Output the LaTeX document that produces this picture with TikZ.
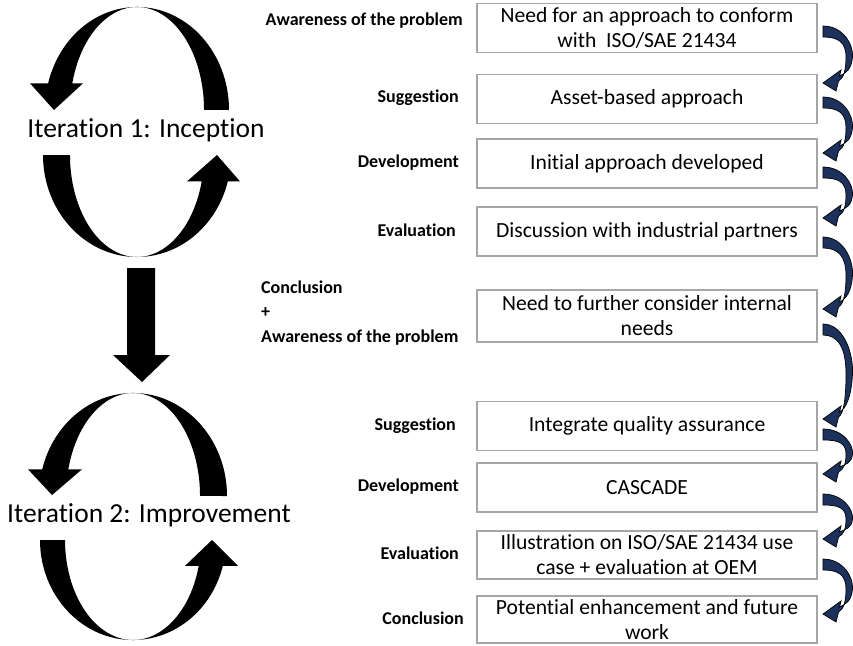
\documentclass[tikz,border=0pt]{standalone}
\usepackage{fontspec}
\setmainfont[Ligatures={NoCommon,NoContextual},Contextuals=NoAlternate]{Carlito}
\definecolor{arrnavy}{RGB}{28,50,92}
\definecolor{boxgray}{RGB}{166,166,166}
\newcommand{\curlyarrow}[2]{%
  \pgfmathsetmacro{\cyt}{#1}%
  \pgfmathsetmacro{\cyh}{#2}%
  \pgfmathsetmacro{\chh}{#2-#1}%
  \filldraw[curly] (823,{\cyt-6})
    .. controls (843,{\cyt-6}) and (853.5,{\cyt+0.25*\chh}) .. (852.5,{\cyt+0.5*\chh})
    .. controls (851.5,{\cyt+0.75*\chh}) and (846,{\cyh-9}) .. (839.5,{\cyh-6})
    -- (841,{\cyh-12}) -- (823,{\cyh+1}) -- (836,{\cyh+9}) -- (838.5,{\cyh-1})
    .. controls (844,{\cyh-4}) and (846,{\cyt+0.75*\chh}) .. (846,{\cyt+0.5*\chh})
    .. controls (846,{\cyt+0.2*\chh}) and (838,{\cyt+5}) .. (823,{\cyt+5}) -- cycle;
}
\begin{document}
\begin{tikzpicture}[x=1pt,y=1pt,yscale=-1,
  box/.style={draw=boxgray, line width=1.2pt, fill=white, minimum width=340pt,
    minimum height=49pt, align=center, inner sep=0pt,
    font=\fontsize{21.6}{25}\selectfont},
  lab/.style={font=\fontsize{18}{24.5}\selectfont\bfseries, inner sep=0pt},
  iter/.style={font=\fontsize{27.5}{33}\selectfont, inner sep=0pt},
  bigarr/.style={fill=black, draw=none},
  curly/.style={fill=arrnavy, draw=black, line width=0.7pt},
]
\useasboundingbox (0,0) rectangle (853,645);

% boxes
\node[box] (b1) at (647,28) {Need for an approach to conform\\with\ \ ISO/SAE 21434};
\node[box] (b2) at (647,99) {Asset-based approach};
\node[box] (b3) at (647,163.5) {Initial approach developed};
\node[box] (b4) at (647,231.5) {Discussion with industrial partners};
\node[box, minimum height=52pt] (b5) at (647,316) {Need to further consider internal\\needs};
\node[box] (b6) at (647,426) {Integrate quality assurance};
\node[box] (b7) at (647,487.5) {CASCADE};
\node[box, minimum height=48pt] (b8) at (647,555) {Illustration on ISO/SAE 21434 use\\case + evaluation at OEM};
\node[box, minimum height=47pt] (b9) at (647,619.5) {Potential enhancement and future\\work};

% labels
\node[lab, anchor=east] (l1) at (463,21) {Awareness of the problem};
\node[lab, anchor=east] (l2) at (459,98) {Suggestion};
\node[lab, anchor=east] (l3) at (459,163) {Development};
\node[lab, anchor=east] (l4) at (456,230) {Evaluation};
\node[lab, anchor=west, align=left] (l5) at (261,313) {Conclusion\\+\\Awareness of the problem};
\node[lab, anchor=east] (l6) at (456,426) {Suggestion};
\node[lab, anchor=east] (l7) at (459,487) {Development};
\node[lab, anchor=east] (l8) at (459,553) {Evaluation};
\node[lab, anchor=east] (l9) at (464,618) {Conclusion};

% iteration labels
\node[iter] (it1) at (146,130) {Iteration 1: Inception};
\node[iter] (it2) at (149,515) {Iteration 2: Improvement};

% iteration 1 loop
\fill[bigarr] (229,110) arc[start angle=0, end angle=-165, x radius=92, y radius=103]
  -- (30,83.3) -- (54,110) -- (83,83.3) -- (72.3,83.3)
  arc[start angle=-165, end angle=0, x radius=67, y radius=103] -- cycle;
\fill[bigarr] (43,155) arc[start angle=180, end angle=15, x radius=94, y radius=102]
  -- (240,181.4) -- (217,155) -- (187,181.4) -- (201.7,181.4)
  arc[start angle=15, end angle=180, x radius=67, y radius=102] -- cycle;

% arrow between iterations
\fill[bigarr] (127,268) -- (155,268) -- (155,355) -- (170,355) -- (142,382)
  -- (113,355) -- (127,355) -- cycle;

% iteration 2 loop
\fill[bigarr] (227,496) arc[start angle=0, end angle=-165, x radius=94, y radius=103]
  -- (28,469.3) -- (52,495) -- (82,469.3) -- (68.3,469.3)
  arc[start angle=-165, end angle=0, x radius=67, y radius=103] -- cycle;
\fill[bigarr] (40,540) arc[start angle=180, end angle=15, x radius=93, y radius=100]
  -- (238,565.9) -- (212,540) -- (185,565.9) -- (198.7,565.9)
  arc[start angle=15, end angle=180, x radius=68, y radius=100] -- cycle;

% curly connectors
\curlyarrow{32}{82}
\curlyarrow{103}{152}
\curlyarrow{173}{217}
\curlyarrow{243}{308}
\curlyarrow{330}{418}
\curlyarrow{435}{473}
\curlyarrow{500}{538}
\curlyarrow{565}{613}
\end{tikzpicture}
\end{document}
